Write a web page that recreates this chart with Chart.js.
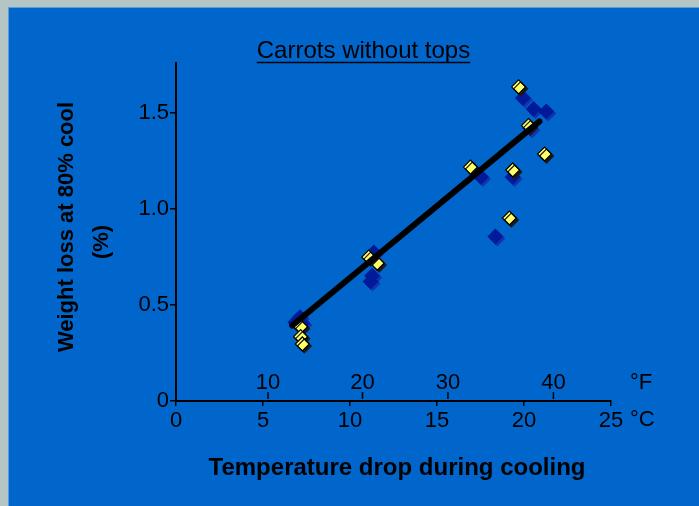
<!DOCTYPE html>
<html>
<head>
<meta charset="utf-8">
<script src="https://cdn.jsdelivr.net/npm/chart.js@4"></script>
<style>
html,body{margin:0;padding:0;background:#b4c6c4;}
canvas{display:block;}
</style>
</head>
<body>
<canvas id="c" width="699" height="506"></canvas>
<script>
// ---- data ----
const titleText = 'Carrots without tops';
const xTitle = 'Temperature drop during cooling';
const yTitleLines = ['Weight loss at 80% cool', '(%)'];

const blueX = [19.94, 20.55, 21.28, 20.36, 17.53, 19.35, 18.35, 11.37, 11.27, 11.18, 7.12, 7.26, 6.86];
const blueY = [1.578, 1.521, 1.508, 1.42, 1.166, 1.166, 0.857, 0.773, 0.652, 0.622, 0.436, 0.405, 0.41];

const yellowX = [19.69, 20.26, 21.18, 16.92, 19.35, 19.16, 11.56, 11.08, 7.16, 7.16, 7.26];
const yellowY = [1.636, 1.434, 1.286, 1.218, 1.203, 0.953, 0.718, 0.749, 0.387, 0.335, 0.297];

const fitX = [6.68, 20.89];
const fitY = [0.393, 1.456];

const xTicksC = [0, 5, 10, 15, 20, 25];
const yTicks = [0, 0.5, 1.0, 1.5];
const yTickLabels = ['0', '0.5', '1.0', '1.5'];
const fTickPos = [5.29, 10.72, 15.63, 21.69];   // where the °F labels sit on the °C scale
const fTickLabels = ['10', '20', '30', '40'];

const FONT = 'Liberation Sans, Arial, Helvetica, sans-serif';

function pts(xs, ys) { return xs.map((x, i) => ({x: x, y: ys[i]})); }

const bgPlugin = {
  id: 'bg',
  beforeDraw(chart) {
    const ctx = chart.ctx;
    ctx.save();
    ctx.fillStyle = '#b4c6c4';
    ctx.fillRect(0, 0, chart.width, chart.height);
    ctx.fillStyle = '#5b9be0';
    ctx.fillRect(8, 7, chart.width - 8, chart.height - 7);
    ctx.fillStyle = '#0066cc';
    ctx.fillRect(9, 8, chart.width - 9, chart.height - 8);
    ctx.restore();
  }
};

const shadowPlugin = {
  id: 'shadows',
  beforeDatasetDraw(chart, args) {
    const ds = chart.data.datasets[args.index];
    const ctx = chart.ctx;
    ctx.save();
    if (ds.shadow) {
      ctx.shadowColor = ds.shadow;
      ctx.shadowOffsetX = 2;
      ctx.shadowOffsetY = 2;
      ctx.shadowBlur = 0;
    }
  },
  afterDatasetDraw(chart) {
    chart.ctx.restore();
  }
};

const textPlugin = {
  id: 'texts',
  afterDraw(chart) {
    const ctx = chart.ctx;
    const xs = chart.scales.x;
    const ca = chart.chartArea;
    ctx.save();
    ctx.fillStyle = '#000';
    ctx.strokeStyle = '#000';

    // title with underline
    ctx.font = '24px ' + FONT;
    ctx.textAlign = 'center';
    ctx.textBaseline = 'alphabetic';
    const tcx = 363.5;
    ctx.fillText(titleText, tcx, 58);
    const tw = ctx.measureText(titleText).width;
    ctx.lineWidth = 1.5;
    ctx.beginPath();
    ctx.moveTo(tcx - tw / 2, 62.5);
    ctx.lineTo(tcx + tw / 2, 62.5);
    ctx.stroke();

    // °F secondary ticks
    ctx.font = '22px ' + FONT;
    ctx.textBaseline = 'middle';
    ctx.lineWidth = 1.5;
    fTickPos.forEach((v, i) => {
      const px = xs.getPixelForValue(v);
      ctx.beginPath();
      ctx.moveTo(px, ca.bottom - 9);
      ctx.lineTo(px, ca.bottom - 2);
      ctx.stroke();
      ctx.textAlign = 'center';
      ctx.fillText(fTickLabels[i], px, 383);
    });
    ctx.textAlign = 'left';
    ctx.fillText('\u00B0F', 630, 383);
    ctx.fillText('\u00B0C', 630, 420);

    // axis titles
    ctx.font = 'bold 24px ' + FONT;
    ctx.textAlign = 'center';
    ctx.fillText(xTitle, 397, 468);

    ctx.font = 'bold 22px ' + FONT;
    ctx.translate(67, 227);
    ctx.rotate(-Math.PI / 2);
    ctx.fillText(yTitleLines[0], 0, 0);
    ctx.fillText(yTitleLines[1], -15, 35);
    ctx.restore();
  }
};

new Chart(document.getElementById('c'), {
  type: 'scatter',
  data: {
    datasets: [
      {
        label: 'fit',
        data: pts(fitX, fitY),
        showLine: true,
        borderColor: '#000',
        borderWidth: 6,
        borderCapStyle: 'round',
        pointRadius: 0,
        order: 0
      },
      {
        label: 'yellow',
        data: pts(yellowX, yellowY),
        pointStyle: 'rectRot',
        pointRadius: 7,
        backgroundColor: '#ffff66',
        borderColor: '#000',
        borderWidth: 1.2,
        shadow: '#1a1a1a',
        order: 1
      },
      {
        label: 'blue',
        data: pts(blueX, blueY),
        pointStyle: 'rectRot',
        pointRadius: 8,
        backgroundColor: '#001a99',
        borderColor: '#001a99',
        borderWidth: 0,
        shadow: '#1236aa',
        order: 2
      }
    ]
  },
  options: {
    responsive: false,
    animation: false,
    devicePixelRatio: 1,
    layout: { padding: { left: 0, top: 63, right: 88, bottom: 0 } },
    plugins: {
      legend: { display: false },
      tooltip: { enabled: false },
      title: { display: false }
    },
    scales: {
      x: {
        type: 'linear',
        min: 0, max: 25,
        afterBuildTicks: s => { s.ticks = xTicksC.map(v => ({value: v})); },
        afterFit: s => { s.height = 105; },
        ticks: {
          color: '#000',
          font: { family: FONT, size: 22 },
          padding: 2,
          maxRotation: 0,
          autoSkip: false,
          callback: v => String(v)
        },
        grid: { drawOnChartArea: false, drawTicks: true, tickLength: 5, color: '#000', lineWidth: 1.5 },
        border: { display: true, color: '#000', width: 2 }
      },
      y: {
        type: 'linear',
        min: 0, max: 1.76,
        afterBuildTicks: s => { s.ticks = yTicks.map(v => ({value: v})); },
        afterFit: s => { s.width = 176; },
        ticks: {
          color: '#000',
          font: { family: FONT, size: 22 },
          padding: 1,
          autoSkip: false,
          callback: (v, i) => yTickLabels[i]
        },
        grid: { drawOnChartArea: false, drawTicks: true, tickLength: 6, color: '#000', lineWidth: 1.5 },
        border: { display: true, color: '#000', width: 2 }
      }
    }
  },
  plugins: [bgPlugin, shadowPlugin, textPlugin]
});
</script>
</body>
</html>
